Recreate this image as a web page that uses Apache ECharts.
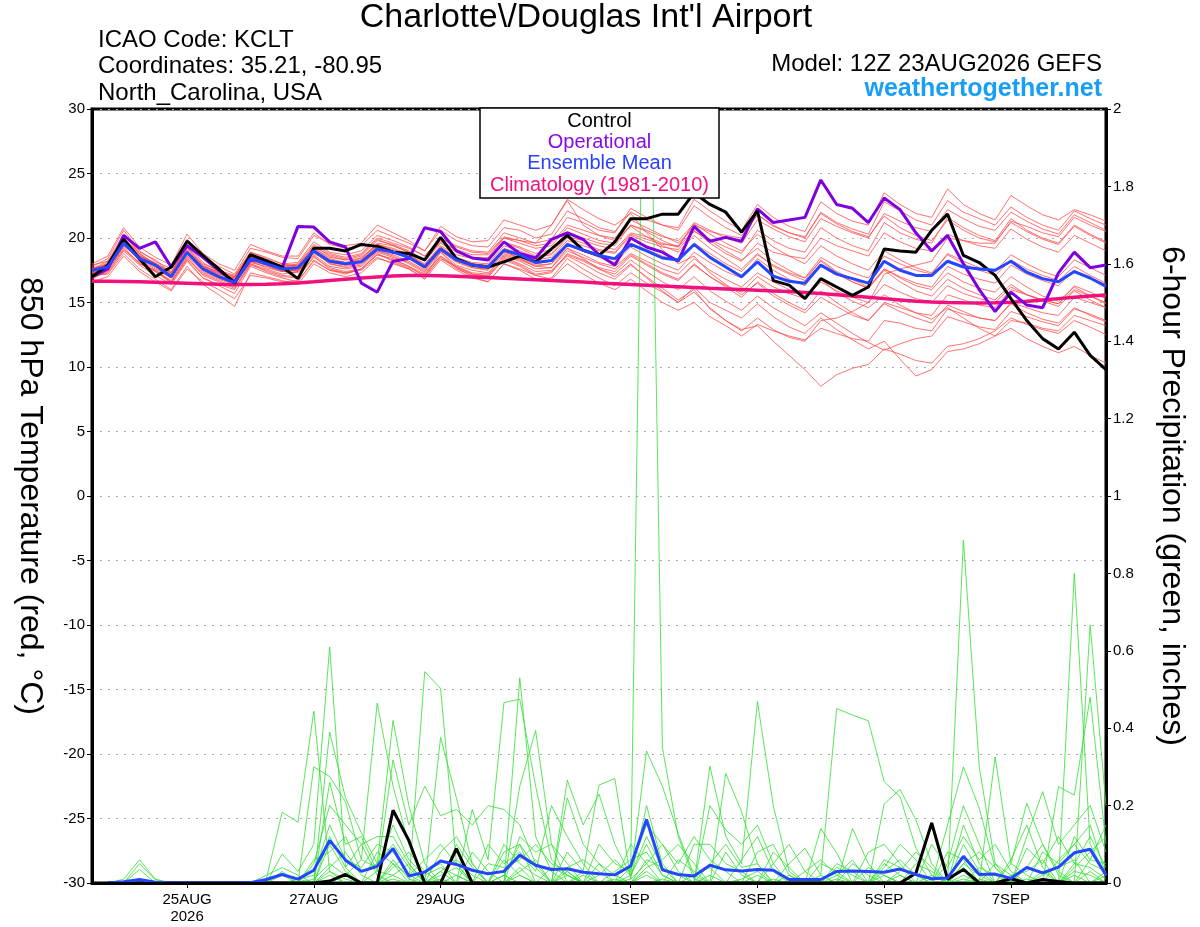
<!DOCTYPE html>
<html><head><meta charset="utf-8">
<script src="https://cdn.jsdelivr.net/npm/echarts@6/dist/echarts.min.js"></script>
<style>html,body{margin:0;padding:0;background:#fff}#c{width:1200px;height:927px}</style>
</head><body><div id="c"></div>
<script>
// ---- x axis: 6-hourly steps from 23AUG2026 12Z (index 0) to 08SEP2026 12Z (index 64)
const tickIndex = [6, 14, 22, 34, 42, 50, 58];
const tickText = ['25AUG\n2026', '27AUG', '29AUG', '1SEP', '3SEP', '5SEP', '7SEP'];

// ---- 850 hPa temperature (deg C)
const controlT = [17.0,17.9,19.9,18.4,17.0,17.75,19.75,18.65,17.6,16.5,
  18.7,18.25,17.75,16.85,19.2,19.2,19.0,19.5,19.35,18.9,
  18.8,18.3,20.05,18.4,17.9,17.75,18.15,18.6,18.15,19.15,
  20.2,19.05,18.65,19.7,21.5,21.5,21.85,21.85,23.5,22.6,
  22.0,20.45,22.1,16.7,16.35,15.3,16.85,16.2,15.55,16.2,
  19.15,19.0,18.9,20.6,21.85,18.65,18.1,17.1,15.3,13.6,
  12.2,11.4,12.7,10.9,9.8];
const operationalT = [17.0,17.6,20.2,19.2,19.7,17.75,19.4,18.5,17.5,16.6,
  18.3,18.2,17.7,20.9,20.85,19.7,19.3,16.5,15.8,18.2,
  18.4,20.8,20.5,19.0,18.45,18.3,19.7,18.8,18.45,19.9,
  20.4,19.9,18.7,17.9,20.0,19.3,18.9,18.2,20.9,19.75,
  20.05,19.75,22.25,21.2,21.4,21.6,24.5,22.6,22.3,21.2,
  23.1,22.2,20.4,19.0,20.2,18.0,16.0,14.3,15.8,14.8,
  14.6,17.3,18.9,17.7,17.9];
const meanT = [17.5,17.75,19.6,18.4,17.9,17.0,18.9,17.6,17.0,16.55,
  18.4,18.0,17.6,17.7,19.0,18.2,18.0,18.15,19.15,18.9,
  18.5,17.75,19.15,18.3,17.9,17.75,19.05,18.7,18.1,18.25,
  19.5,19.05,18.65,18.4,19.5,19.0,18.45,18.3,19.5,18.5,
  17.75,17.0,18.15,17.05,16.65,16.5,17.9,17.2,16.85,16.5,
  18.2,17.5,17.1,17.1,18.2,17.75,17.6,17.5,18.2,17.35,
  16.85,16.6,17.4,16.9,16.25];
const climatologyT = [16.65,16.64,16.62,16.6,16.57,16.53,16.49,16.45,16.42,16.4,
  16.4,16.42,16.46,16.52,16.6,16.7,16.8,16.9,16.98,17.05,
  17.1,17.1,17.08,17.03,16.98,16.93,16.88,16.82,16.76,16.7,
  16.64,16.58,16.52,16.46,16.4,16.34,16.28,16.22,16.16,16.1,
  16.05,16.0,15.95,15.9,15.85,15.78,15.7,15.6,15.5,15.4,
  15.3,15.2,15.1,15.03,15.0,14.98,14.97,14.98,15.02,15.1,
  15.2,15.3,15.4,15.5,15.58];

// ensemble members (temperature)
const memberT01 = [17.8,18.4,20.6,19.0,18.2,17.6,19.9,18.5,17.8,17.2,19.2,18.9,18.5,18.4,20.2,19.6,19.4,
  19.6,21.0,20.4,19.8,19.0,20.6,19.8,19.4,19.3,20.8,20.6,20.0,20.3,22.1,21.5,20.8,
  20.5,22.0,21.4,21.0,20.6,22.5,21.6,20.8,20.2,21.8,20.9,20.4,20.0,22.0,21.2,20.7,
  20.3,22.8,22.1,21.4,21.0,22.9,22.0,21.5,21.0,22.4,21.6,21.0,20.6,22.1,21.5,21.0];
const memberT02 = [17.2,17.6,19.3,18.0,17.5,16.6,18.5,17.1,16.6,16.1,18.0,17.4,17.0,16.9,18.6,17.6,17.3,
  17.5,18.5,18.0,17.6,16.9,18.5,17.6,17.1,17.0,18.4,17.9,17.2,17.4,18.6,18.0,17.3,
  16.8,17.9,17.0,16.1,15.2,16.0,14.5,13.6,12.9,13.2,12.0,10.9,9.8,8.5,9.4,9.9,
  10.2,11.4,11.0,10.5,10.3,11.6,11.8,12.2,12.8,13.8,13.3,12.9,12.6,13.6,13.1,12.5];
const memberT03 = [17.0,17.3,19.0,17.9,17.1,16.4,18.2,16.9,16.3,15.7,17.8,17.3,16.9,16.6,18.3,17.5,17.2,
  17.6,18.7,18.4,17.8,17.0,18.9,17.7,17.0,16.6,18.0,17.5,16.8,16.9,18.4,17.6,16.9,
  16.3,17.3,16.5,15.8,15.0,16.2,15.0,14.4,13.8,14.9,13.9,13.1,12.6,13.8,12.9,12.1,
  11.4,12.0,10.6,9.3,9.8,11.2,11.4,11.8,12.4,13.6,13.4,13.0,12.8,14.0,13.6,13.2];
const memberT04 = [17.6,18.0,20.2,18.9,18.3,17.3,19.5,18.1,17.4,17.0,18.9,18.5,18.0,18.1,19.7,18.9,18.7,
  19.0,20.2,19.8,19.3,18.6,20.0,19.4,19.0,18.9,20.4,20.0,19.6,19.9,21.6,21.2,20.6,
  20.4,22.3,21.6,21.0,20.8,23.0,22.1,21.3,20.6,22.6,21.6,20.9,20.5,22.8,21.9,21.3,
  21.0,23.5,22.6,21.9,21.6,23.8,22.6,21.9,21.4,23.3,22.5,21.8,21.4,22.2,21.8,21.3];
const memberT05 = [17.4,18.1,19.9,18.7,17.8,17.2,19.2,17.9,17.3,16.8,18.6,18.2,17.9,17.9,19.4,18.6,18.3,
  18.6,19.8,19.5,19.0,18.3,19.8,19.0,18.5,18.4,19.7,19.3,18.8,19.1,20.5,20.0,19.6,
  19.4,21.0,20.5,19.8,19.3,20.6,19.6,18.8,18.2,19.6,18.9,18.6,18.4,20.0,19.4,19.0,
  18.6,20.4,19.7,19.2,19.0,20.3,19.8,19.4,19.2,20.7,19.9,19.3,18.9,20.2,19.6,19.0];
const memberT06 = [17.7,17.9,19.8,18.2,17.6,16.9,18.8,17.4,16.9,16.4,18.2,17.7,17.4,17.5,18.9,18.0,17.8,
  18.0,19.0,18.7,18.2,17.5,19.0,18.1,17.7,17.5,18.8,18.4,17.9,18.0,19.2,18.7,18.1,
  17.8,18.8,18.2,17.6,17.2,18.4,17.5,16.8,16.2,17.3,16.6,16.0,15.5,16.8,15.8,15.1,
  14.6,15.6,14.8,14.2,13.7,14.6,13.8,13.0,12.4,13.0,12.2,11.6,11.1,11.6,10.9,10.3];
const memberT07 = [16.9,17.4,19.1,18.1,17.4,16.6,18.4,17.2,16.7,16.2,18.0,17.6,17.2,17.4,18.8,18.2,18.0,
  18.5,19.5,19.1,18.7,18.0,19.4,18.7,18.4,18.5,20.0,19.8,19.6,21.0,22.9,21.0,20.2,
  19.8,20.9,20.1,19.4,18.9,20.2,19.2,18.4,17.6,18.8,17.8,17.2,16.7,18.3,17.4,16.8,
  16.2,17.6,16.9,16.3,16.0,17.3,16.6,16.1,15.8,17.0,16.2,15.5,15.1,16.2,15.5,14.9];
const memberT08 = [17.1,17.2,18.8,17.6,16.8,16.0,17.8,16.4,15.6,14.7,17.3,17.0,16.7,16.4,18.0,17.3,17.0,
  17.3,18.4,18.1,17.6,16.8,18.3,17.5,16.9,16.6,18.0,17.6,17.1,17.3,18.8,18.3,17.7,
  17.4,18.6,17.9,17.2,16.7,18.0,17.0,16.2,15.4,16.6,15.7,15.0,14.4,15.9,15.0,14.2,
  13.6,14.9,14.3,13.8,13.4,14.8,14.3,13.8,13.6,14.9,14.2,13.7,13.4,14.6,14.0,13.5];
const memberT09 = [17.3,17.7,19.4,18.5,17.9,17.1,18.9,17.6,17.1,16.7,18.5,18.1,17.5,17.6,19.1,18.3,17.9,
  18.1,19.3,19.0,18.6,17.9,19.3,18.4,18.0,17.9,19.2,18.8,18.3,18.5,19.8,19.4,19.0,
  18.8,20.2,19.7,19.3,19.1,20.5,19.9,19.3,18.8,20.6,19.8,19.2,18.9,20.8,20.0,19.4,
  19.0,21.2,20.4,19.9,19.6,21.6,20.8,20.2,19.8,21.5,20.6,20.0,19.6,21.0,20.3,19.7];
const memberT10 = [17.9,18.2,20.0,18.6,18.0,17.4,19.3,17.8,17.2,16.9,18.6,18.0,17.6,17.4,18.9,18.0,17.7,
  17.9,19.0,18.6,18.0,17.3,18.6,17.8,17.2,17.0,18.3,17.8,17.1,16.8,18.0,17.2,16.5,
  16.0,16.8,15.9,15.0,14.4,15.0,13.9,13.2,12.4,13.3,12.8,12.4,12.1,13.0,12.6,12.2,
  12.0,13.6,13.4,13.0,12.8,14.5,14.1,13.8,13.6,15.0,14.6,14.2,14.0,15.4,15.0,14.6];
const memberT11 = [17.5,17.9,19.7,18.6,18.1,17.3,19.1,17.8,17.3,16.9,18.7,18.3,17.8,17.8,19.2,18.5,18.3,
  18.4,19.6,19.4,18.9,18.2,19.6,18.9,18.4,18.3,19.6,19.2,18.6,18.8,20.1,19.8,19.4,
  19.1,20.4,20.1,19.6,19.3,21.2,20.6,20.0,19.6,21.4,20.7,20.1,19.7,21.5,20.9,20.4,
  20.0,21.9,21.3,20.8,20.5,22.2,21.5,20.9,20.6,22.0,21.3,20.7,20.3,21.8,21.2,20.6];
const memberT12 = [16.8,17.5,19.2,18.0,17.5,16.7,18.6,17.3,16.8,16.4,18.1,17.8,17.4,17.3,18.7,17.8,17.6,
  17.8,18.9,18.5,18.1,17.4,18.9,17.9,17.5,17.3,18.6,18.2,17.6,17.7,19.0,18.5,18.0,
  17.6,18.7,18.0,17.3,16.8,17.9,17.0,16.3,15.8,17.0,16.2,15.7,15.3,16.6,15.9,15.4,
  15.0,16.4,15.8,15.3,15.0,16.3,15.7,15.3,15.0,16.2,15.6,15.2,14.9,16.0,15.5,15.0];
const memberT13 = [17.6,18.2,20.3,18.8,17.9,17.0,19.0,17.7,17.2,16.8,18.5,18.2,17.8,18.0,19.5,18.8,18.5,
  18.8,20.0,19.6,19.2,18.6,20.0,19.3,18.9,18.8,20.1,19.8,19.4,19.6,21.0,20.6,20.2,
  20.0,21.4,20.8,20.2,19.6,20.8,19.8,19.0,18.3,19.2,18.2,17.5,16.9,18.2,17.3,16.6,
  16.1,17.6,17.0,16.5,16.2,17.8,17.2,16.8,16.5,17.9,17.2,16.7,16.3,17.5,16.9,16.4];
const memberT14 = [17.3,17.8,19.5,18.3,17.7,16.9,18.7,17.5,16.9,16.5,18.2,17.9,17.5,17.6,18.9,18.1,17.9,
  18.2,19.4,19.0,18.4,17.7,19.1,18.2,17.7,17.6,18.9,18.5,18.0,18.2,19.6,19.0,18.5,
  18.1,19.3,18.6,18.0,17.5,18.9,18.1,17.4,16.9,18.4,17.5,16.8,16.3,17.9,17.2,16.6,
  16.1,17.5,16.6,15.9,15.5,16.8,16.1,15.6,15.2,16.4,15.6,15.1,14.7,15.9,15.2,14.6];
const memberT15 = [17.2,17.6,19.4,18.4,17.8,17.1,19.0,17.6,17.0,16.5,18.3,17.9,17.4,17.5,19.0,18.3,18.1,
  18.3,19.5,19.2,18.7,17.9,19.3,18.5,18.1,18.0,19.4,19.0,18.5,18.7,20.0,19.6,19.1,
  18.9,20.3,19.9,19.5,19.4,21.0,20.5,20.2,20.0,21.8,21.0,20.4,20.1,21.9,21.1,20.5,
  20.1,21.7,20.8,20.2,19.8,21.4,20.6,20.0,19.7,21.2,20.5,19.9,19.5,20.9,20.2,19.6];
const memberT16 = [17.4,17.8,19.6,18.2,17.4,16.5,18.3,16.9,16.4,16.0,17.9,17.5,17.1,17.0,18.5,17.7,17.4,
  17.6,18.7,18.3,17.8,17.2,18.6,17.7,17.2,17.1,18.5,18.0,17.4,17.5,18.7,18.2,17.6,
  17.2,18.3,17.4,16.6,16.0,17.0,15.9,15.1,14.4,15.5,14.6,13.9,13.2,14.2,13.4,12.6,
  11.9,11.3,11.8,12.2,12.4,13.9,13.5,13.1,12.9,14.3,13.9,13.5,13.2,14.5,14.1,13.6];
const memberT17 = [18.0,18.6,20.8,19.3,18.5,17.9,20.3,18.8,18.0,17.5,19.5,19.0,18.6,18.6,20.4,19.5,19.2,
  19.4,20.6,20.1,19.6,19.0,20.9,20.1,19.7,19.8,21.4,21.0,20.6,21.0,23.0,22.2,21.5,
  21.0,21.9,20.4,19.1,18.0,18.6,17.3,16.4,15.6,16.5,15.5,14.8,14.2,15.4,14.7,14.0,
  13.6,15.0,14.6,14.2,14.0,15.6,15.2,14.8,14.6,16.0,15.6,15.2,14.9,16.3,15.8,15.3];
const memberT18 = [16.6,17.0,18.6,17.4,16.6,15.9,17.6,16.6,16.0,15.3,17.1,16.9,16.6,16.7,18.2,17.5,17.3,
  17.6,18.8,18.2,17.7,17.1,18.4,17.8,17.3,17.2,18.7,18.3,17.8,18.0,19.4,19.0,18.6,
  18.3,19.6,19.1,18.6,18.2,19.6,18.8,18.0,17.4,18.7,17.9,17.3,16.9,18.5,17.8,17.3,
  16.9,18.6,18.0,17.5,17.2,18.8,18.2,17.7,17.4,18.7,18.0,17.4,17.0,18.3,17.7,17.1];
const memberT19 = [17.5,18.0,20.0,18.8,18.0,17.3,19.3,18.0,17.5,17.1,18.9,18.4,18.0,17.8,19.2,18.4,18.1,
  18.3,19.5,19.0,18.4,17.6,19.0,18.3,17.8,17.6,19.0,18.4,17.8,17.7,19.2,18.4,17.6,
  17.0,18.0,16.9,15.9,15.0,15.8,14.6,13.6,12.8,13.8,12.9,12.3,12.0,13.6,13.8,14.3,
  15.0,17.2,17.6,17.9,18.2,20.0,19.8,19.6,19.6,21.3,20.9,20.4,20.1,21.6,21.0,20.5];
const memberT20 = [17.0,17.5,19.8,18.6,18.0,17.2,19.0,17.8,17.4,17.0,18.8,18.2,17.8,17.9,19.3,18.7,18.4,
  18.7,19.9,19.4,18.9,18.3,19.7,19.1,18.7,18.7,20.0,19.6,19.2,19.4,20.8,20.3,19.8,
  19.6,21.0,20.6,20.1,19.8,21.1,20.3,19.6,19.0,20.3,19.3,18.6,18.0,19.4,18.6,18.0,
  17.5,19.0,18.3,17.7,17.3,18.7,18.0,17.5,17.1,18.3,17.6,17.1,16.7,17.8,17.1,16.5];

// ---- 6-hour precipitation (inches); index 0 has no accumulation
const meanP = [null,0,0.003,0.009,0.002,0,0,0,0,0,0.001,
  0.009,0.022,0.01,0.033,0.11,0.059,0.03,0.043,0.089,0.018,
  0.028,0.057,0.048,0.033,0.024,0.03,0.072,0.046,0.035,0.037,
  0.028,0.024,0.021,0.044,0.164,0.034,0.022,0.018,0.046,0.034,
  0.031,0.035,0.033,0.009,0.009,0.009,0.03,0.031,0.03,0.028,
  0.036,0.022,0.011,0.013,0.069,0.022,0.023,0.012,0.04,0.026,
  0.041,0.078,0.087,0.02];
// control precipitation: [step index, inches]; all other steps are dry
const controlRain = [[15,0.005],[16,0.022],[19,0.188],[20,0.11],[23,0.089],
  [52,0.025],[53,0.155],[54,0.01],[55,0.035],[58,0.011],[60,0.009],[61,0.004]];
// member precipitation: [step index, inches]; all other steps are dry
const memberRain01 = [[2,0.01],[3,0.06],[4,0.01],[11,0.01],[12,0.183],[13,0.157],[14,0.444],[15,0.03],[16,0.01],[19,0.05],[20,0.02],[27,0.53],[28,0.12],[29,0.03],[34,0.02],[35,0.341],[36,0.25],[37,0.128],[38,0.02],[46,0.02],[47,0.451],[48,0.434],[49,0.419],[50,0.262],[51,0.223],[52,0.09],[53,0.02],[62,0.05],[63,0.12],[64,0.04]];
const memberRain02 = [[3,0.05],[4,0.008],[12,0.075],[13,0.03],[14,0.1],[15,0.61],[16,0.04],[17,0.1],[18,0.02],[21,0.546],[22,0.503],[23,0.05],[26,0.02],[27,0.1],[30,0.02],[32,0.1],[33,0.05],[34,0.03],[35,2.8],[36,0.35],[37,0.12],[38,0.01],[55,0.886],[56,0.3],[57,0.05],[60,0.03],[62,0.8],[63,0.1],[64,0.02]];
const memberRain03 = [[3,0.035],[11,0.02],[12,0.04],[13,0.02],[15,0.39],[16,0.22],[17,0.13],[18,0.05],[19,0.42],[20,0.2],[21,0.05],[24,0.19],[25,0.06],[26,0.466],[27,0.475],[28,0.25],[29,0.06],[30,0.02],[39,0.302],[40,0.12],[41,0.05],[42,0.469],[43,0.2],[44,0.03],[57,0.326],[58,0.05],[59,0.206],[60,0.1],[61,0.02],[63,0.667],[64,0.2]];
const memberRain04 = [[12,0.03],[14,0.3],[15,0.275],[16,0.21],[17,0.06],[18,0.465],[19,0.25],[20,0.1],[22,0.376],[23,0.22],[24,0.05],[27,0.25],[28,0.394],[29,0.1],[31,0.03],[32,0.253],[33,0.27],[34,0.01],[35,0.2],[36,0.05],[40,0.283],[41,0.184],[42,0.05],[48,0.141],[49,0.05],[54,0.15],[55,0.3],[56,0.193],[57,0.04],[61,0.249],[62,0.227],[63,0.48],[64,0.1]];
const memberRain05 = [[12,0.02],[13,0.01],[15,0.26],[16,0.1],[17,0.12],[18,0.03],[19,0.318],[20,0.15],[21,0.25],[22,0.174],[23,0.19],[24,0.15],[25,0.2],[26,0.19],[27,0.15],[28,0.05],[30,0.266],[31,0.15],[32,0.23],[33,0.1],[34,0.02],[35,0.1],[36,0.02],[39,0.2],[40,0.137],[41,0.1],[42,0.15],[43,0.05],[46,0.141],[47,0.077],[50,0.204],[51,0.242],[52,0.163],[53,0.05],[55,0.15],[56,0.05],[59,0.12],[60,0.236],[61,0.1],[62,0.15],[63,0.2],[64,0.08]];
const memberRain06 = [[14,0.05],[15,0.2],[16,0.15],[17,0.1],[18,0.12],[19,0.12],[20,0.05],[22,0.08],[23,0.12],[24,0.05],[26,0.08],[27,0.1],[28,0.04],[30,0.22],[31,0.1],[32,0.05],[35,0.06],[36,0.04],[37,0.02],[42,0.08],[43,0.1],[44,0.02],[47,0.02],[48,0.06],[50,0.04],[51,0.1],[52,0.06],[54,0.05],[55,0.2],[56,0.1],[58,0.06],[59,0.15],[60,0.04],[62,0.12],[63,0.06],[64,0.15]];
const memberRain07 = [[13,0.01],[14,0.02],[15,0.15],[16,0.06],[17,0.04],[18,0.1],[19,0.08],[20,0.02],[21,0.06],[22,0.1],[23,0.05],[25,0.1],[26,0.05],[27,0.08],[28,0.03],[29,0.2],[30,0.12],[31,0.05],[34,0.01],[35,0.05],[36,0.1],[37,0.05],[38,0.12],[39,0.06],[40,0.03],[44,0.05],[45,0.09],[46,0.02],[49,0.08],[50,0.1],[51,0.05],[53,0.1],[54,0.04],[55,0.12],[56,0.06],[57,0.1],[58,0.03],[60,0.08],[61,0.05],[62,0.1],[63,0.05],[64,0.03]];
const memberRain08 = [[15,0.12],[16,0.04],[18,0.08],[19,0.05],[21,0.03],[22,0.05],[24,0.08],[25,0.03],[27,0.12],[28,0.08],[29,0.1],[30,0.05],[33,0.03],[34,0.06],[35,0.08],[36,0.02],[38,0.1],[39,0.1],[40,0.05],[41,0.03],[43,0.08],[44,0.04],[47,0.05],[48,0.03],[50,0.06],[51,0.04],[52,0.02],[55,0.05],[56,0.08],[57,0.04],[59,0.09],[60,0.05],[61,0.12],[62,0.05],[63,0.04],[64,0.01]];
const memberRain09 = [[11,0.01],[12,0.02],[14,0.06],[15,0.08],[16,0.12],[17,0.03],[18,0.05],[19,0.1],[20,0.04],[22,0.03],[23,0.06],[24,0.02],[26,0.1],[27,0.05],[28,0.02],[30,0.04],[31,0.06],[32,0.03],[34,0.04],[35,0.15],[36,0.1],[37,0.03],[39,0.05],[40,0.1],[41,0.04],[42,0.05],[44,0.02],[46,0.05],[47,0.03],[49,0.04],[50,0.02],[52,0.05],[53,0.03],[55,0.05],[56,0.02],[58,0.05],[59,0.02],[61,0.06],[62,0.1],[63,0.15],[64,0.02]];
const memberRain10 = [[14,0.01],[15,0.05],[16,0.02],[17,0.06],[18,0.04],[19,0.15],[20,0.06],[21,0.02],[22,0.04],[23,0.02],[25,0.05],[26,0.04],[27,0.06],[28,0.1],[29,0.05],[30,0.03],[32,0.05],[33,0.02],[35,0.04],[36,0.06],[37,0.1],[38,0.05],[41,0.06],[42,0.12],[43,0.03],[45,0.03],[46,0.06],[47,0.02],[50,0.03],[51,0.06],[52,0.02],[54,0.08],[55,0.06],[57,0.05],[58,0.02],[59,0.03],[60,0.06],[62,0.04],[63,0.08],[64,0.12]];
const memberRain11 = [[15,0.1],[16,0.03],[19,0.04],[20,0.08],[21,0.03],[23,0.1],[24,0.04],[27,0.03],[28,0.06],[30,0.08],[31,0.03],[34,0.1],[35,0.05],[37,0.06],[38,0.03],[40,0.08],[41,0.02],[43,0.05],[44,0.1],[45,0.03],[48,0.05],[49,0.02],[51,0.03],[52,0.08],[53,0.04],[56,0.04],[57,0.02],[59,0.04],[60,0.1],[61,0.03],[63,0.06],[64,0.05]];
const memberRain12 = [[15,0.04],[16,0.08],[17,0.02],[19,0.02],[20,0.05],[22,0.02],[23,0.04],[26,0.06],[27,0.02],[29,0.04],[30,0.02],[32,0.02],[33,0.06],[34,0.02],[35,0.12],[36,0.04],[38,0.02],[39,0.04],[41,0.01],[42,0.03],[45,0.01],[47,0.04],[48,0.02],[50,0.05],[51,0.02],[53,0.02],[55,0.1],[56,0.03],[58,0.02],[60,0.02],[61,0.04],[62,0.06],[64,0.03]];
const memberRain13 = [[15,0.02],[18,0.03],[19,0.02],[22,0.03],[27,0.02],[30,0.03],[35,0.03],[42,0.02],[55,0.04],[62,0.03],[63,0.02]];
const memberRain14 = [[16,0.02],[19,0.06],[20,0.01],[23,0.02],[26,0.02],[31,0.02],[36,0.01],[39,0.02],[47,0.01],[51,0.02],[55,0.02],[59,0.01],[63,0.03]];
const memberRain15 = [[15,0.03],[22,0.01],[27,0.04],[33,0.01],[43,0.01],[50,0.02],[56,0.01],[62,0.02],[64,0.02]];
const memberRain16 = [[19,0.01],[35,0.02],[55,0.01]];

// ---- build
const N = 65;
const cats = [];
for (let i = 0; i < N; i++) cats.push(String(i));
function rainSeries(pairs) {
  const a = [null];
  for (let i = 1; i < N; i++) a.push(0);
  pairs.forEach(p => { a[p[0]] = p[1]; });
  return a;
}
const tempMembers = [memberT01,memberT02,memberT03,memberT04,memberT05,memberT06,memberT07,memberT08,
  memberT09,memberT10,memberT11,memberT12,memberT13,memberT14,memberT15,memberT16,
  memberT17,memberT18,memberT19,memberT20];
const rainMembers = [memberRain01,memberRain02,memberRain03,memberRain04,memberRain05,memberRain06,memberRain07,memberRain08,
  memberRain09,memberRain10,memberRain11,memberRain12,memberRain13,memberRain14,memberRain15,memberRain16];

const FONT = "'Liberation Sans', Arial, Helvetica, sans-serif";
const series = [];
tempMembers.forEach(d => series.push({type:'line', yAxisIndex:0, data:d, showSymbol:false, silent:true, z:2,
  lineStyle:{color:'rgba(255,70,70,0.85)', width:0.9}}));
rainMembers.forEach(d => series.push({type:'line', yAxisIndex:1, data:rainSeries(d), showSymbol:false, silent:true, z:3,
  lineStyle:{color:'#2ee02e', width:0.8}}));
series.push({type:'line', yAxisIndex:0, data:climatologyT, showSymbol:false, z:4, lineStyle:{color:'#f0117f', width:3.5}});
series.push({type:'line', yAxisIndex:0, data:operationalT, showSymbol:false, z:5, lineStyle:{color:'#7e00df', width:3}});
series.push({type:'line', yAxisIndex:0, data:controlT, showSymbol:false, z:6, lineStyle:{color:'#000000', width:3}});
series.push({type:'line', yAxisIndex:1, data:rainSeries(controlRain), showSymbol:false, z:6, lineStyle:{color:'#000000', width:3}});
series.push({type:'line', yAxisIndex:0, data:meanT, showSymbol:false, z:7, lineStyle:{color:'#2446ff', width:3}});
series.push({type:'line', yAxisIndex:1, data:meanP, showSymbol:false, z:7, lineStyle:{color:'#2446ff', width:3}});

const showTick = idx => tickIndex.indexOf(idx) >= 0;

const chart = echarts.init(document.getElementById('c'), null, {renderer:'canvas'});
chart.setOption({
  animation:false,
  backgroundColor:'#ffffff',
  grid:{left:92, right:94, top:109, bottom:44, show:true, borderColor:'#000', borderWidth:3, backgroundColor:'transparent'},
  xAxis:{type:'category', data:cats, boundaryGap:false, z:10,
    axisLine:{onZero:false, lineStyle:{color:'#000', width:3}},
    axisTick:{show:true, interval:(i)=>showTick(i), length:5, lineStyle:{color:'#000', width:1}},
    axisLabel:{interval:(i)=>showTick(i), margin:8, color:'#000', fontSize:15, lineHeight:17, fontFamily:FONT,
      formatter:(v, i)=>{ const k = tickIndex.indexOf(i); return k >= 0 ? tickText[k] : ''; }},
    splitLine:{show:false}},
  yAxis:[
    {type:'value', position:'left', min:-30, max:30, interval:5,
      name:'850 hPa Temperature (red, °C)', nameLocation:'middle', nameRotate:-90, nameGap:46,
      nameTextStyle:{fontSize:32, color:'#000', fontFamily:FONT},
      axisLine:{show:true, onZero:false, lineStyle:{color:'#000', width:3}},
      axisTick:{show:true, length:5, lineStyle:{color:'#000', width:1}},
      axisLabel:{color:'#000', fontSize:15, fontFamily:FONT, margin:7},
      splitLine:{show:true, lineStyle:{color:'#a8a8a8', width:1, type:[2,6]}}},
    {type:'value', position:'right', min:0, max:2, interval:0.2,
      name:'6-hour Precipitation (green, inches)', nameLocation:'middle', nameRotate:-90, nameGap:50,
      nameTextStyle:{fontSize:32, color:'#000', fontFamily:FONT},
      axisLine:{show:true, onZero:false, lineStyle:{color:'#000', width:3}},
      axisTick:{show:true, length:5, lineStyle:{color:'#000', width:1}},
      axisLabel:{color:'#000', fontSize:15, fontFamily:FONT, margin:7},
      splitLine:{show:false}}
  ],
  graphic:[
    {type:'text', x:586, y:18, z:100, style:{text:"Charlotte\\/Douglas Int'l Airport", font:'34px '+FONT, fill:'#000', textAlign:'center', textVerticalAlign:'middle'}},
    {type:'text', x:98, y:40, z:100, style:{text:'ICAO Code: KCLT', font:'24px '+FONT, fill:'#000', textAlign:'left', textVerticalAlign:'middle'}},
    {type:'text', x:98, y:66, z:100, style:{text:'Coordinates: 35.21, -80.95', font:'24px '+FONT, fill:'#000', textAlign:'left', textVerticalAlign:'middle'}},
    {type:'text', x:98, y:93, z:100, style:{text:'North_Carolina, USA', font:'24px '+FONT, fill:'#000', textAlign:'left', textVerticalAlign:'middle'}},
    {type:'text', x:1102, y:64, z:100, style:{text:'Model: 12Z 23AUG2026 GEFS', font:'24px '+FONT, fill:'#000', textAlign:'right', textVerticalAlign:'middle'}},
    {type:'text', x:1102, y:89, z:100, style:{text:'weathertogether.net', font:'bold 25px '+FONT, fill:'#189ef5', textAlign:'right', textVerticalAlign:'middle'}},
    {type:'rect', z:100, shape:{x:480, y:108, width:239, height:90}, style:{fill:'#fff', stroke:'#000', lineWidth:1.5}},
    {type:'text', x:599.5, y:121, z:101, style:{text:'Control', font:'20px '+FONT, fill:'#000', textAlign:'center', textVerticalAlign:'middle'}},
    {type:'text', x:599.5, y:142, z:101, style:{text:'Operational', font:'20px '+FONT, fill:'#8a0ae6', textAlign:'center', textVerticalAlign:'middle'}},
    {type:'text', x:599.5, y:163, z:101, style:{text:'Ensemble Mean', font:'20px '+FONT, fill:'#2a40ff', textAlign:'center', textVerticalAlign:'middle'}},
    {type:'text', x:599.5, y:185, z:101, style:{text:'Climatology (1981-2010)', font:'20px '+FONT, fill:'#f0117f', textAlign:'center', textVerticalAlign:'middle'}}
  ],
  series:series
});
</script>
</body></html>
